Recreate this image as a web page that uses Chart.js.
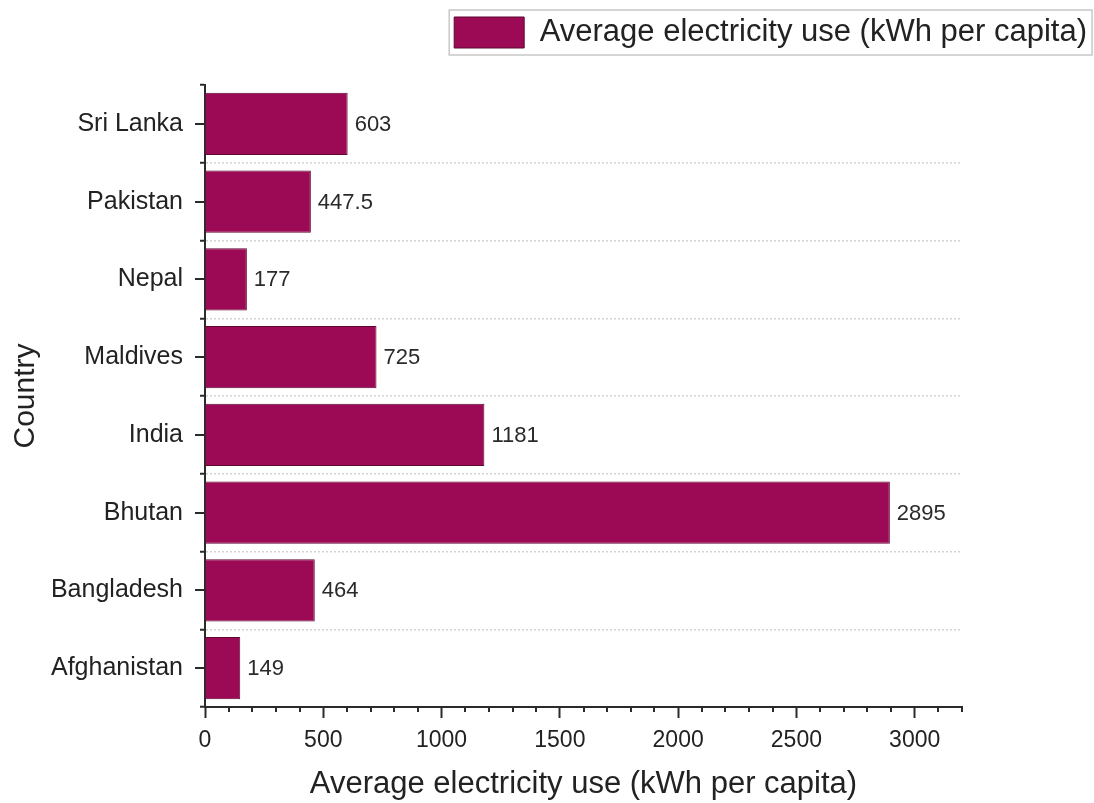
<!DOCTYPE html>
<html>
<head>
<meta charset="utf-8">
<title>Average electricity use</title>
<script src="https://cdn.jsdelivr.net/npm/chart.js@4.4.0/dist/chart.umd.min.js"></script>
<style>
    html, body { margin: 0; padding: 0; background: #fff; }
</style>
</head>
<body>
<canvas id="elecChart" width="1094" height="803"></canvas>
<script>
// data, bottom to top as in the figure
const countries = ['Afghanistan', 'Bangladesh', 'Bhutan', 'India', 'Maldives', 'Nepal', 'Pakistan', 'Sri Lanka'];
const kwhPerCapita = [149, 464, 2895, 1181, 725, 177, 447.5, 603];
const seriesName = 'Average electricity use (kWh per capita)';
const xTitle = 'Average electricity use (kWh per capita)';
const yTitle = 'Country';
const xMax = 3200;
const xMajorStep = 500;
const xMinorStep = 100;

const barColor = '#9c0a55';
const axisColor = '#2b2b2b';

Chart.defaults.font.family = "'Liberation Sans', Arial, sans-serif";
Chart.defaults.color = '#222';

// numbers printed next to each bar
const valueLabels = {
    id: 'valueLabels',
    afterDatasetsDraw(chart) {
        const ctx = chart.ctx;
        const meta = chart.getDatasetMeta(0);
        ctx.save();
        ctx.font = "22px 'Liberation Sans', Arial, sans-serif";
        ctx.fillStyle = '#2a2a2a';
        ctx.textAlign = 'left';
        ctx.textBaseline = 'middle';
        meta.data.forEach((bar, i) => {
            ctx.fillText(String(kwhPerCapita[i]), bar.x + 7, bar.y + 1);
        });
        ctx.restore();
    }
};

// short minor ticks on x, longer ticks at category centres on y
const extraTicks = {
    id: 'extraTicks',
    afterDraw(chart) {
        const ctx = chart.ctx;
        const x = chart.scales.x;
        const y = chart.scales.y;
        ctx.save();
        ctx.strokeStyle = axisColor;
        ctx.lineWidth = 2;
        ctx.beginPath();
        for (let v = 0; v <= xMax; v += xMinorStep) {
            if (v % xMajorStep === 0) continue;
            const px = Math.round(x.getPixelForValue(v));
            ctx.moveTo(px, x.top);
            ctx.lineTo(px, x.top + 5);
        }
        countries.forEach((c, i) => {
            const py = Math.round(y.getPixelForValue(i));
            ctx.moveTo(y.right, py);
            ctx.lineTo(y.right - 10, py);
        });
        ctx.stroke();
        ctx.restore();
    }
};

// thin frame round the legend
const legendFrame = {
    id: 'legendFrame',
    afterDraw(chart) {
        const box = chart.legend.legendHitBoxes[0];
        if (!box) return;
        const ctx = chart.ctx;
        ctx.save();
        ctx.strokeStyle = '#c8c8c8';
        ctx.lineWidth = 1.5;
        ctx.strokeRect(box.left - 5, box.top - 7, box.width + 10, box.height + 14);
        ctx.restore();
    }
};

new Chart(document.getElementById('elecChart').getContext('2d'), {
    type: 'bar',
    data: {
        labels: countries,
        datasets: [{
            label: seriesName,
            data: kwhPerCapita,
            backgroundColor: barColor,
            borderColor: '#5e0832',
            borderWidth: 1,
            categoryPercentage: 0.8,
            barPercentage: 1.0
        }]
    },
    options: {
        indexAxis: 'y',
        responsive: false,
        animation: false,
        layout: { padding: { top: 10, left: 8, right: 0, bottom: 0 } },
        plugins: {
            tooltip: { enabled: false },
            legend: {
                position: 'top',
                align: 'end',
                labels: {
                    boxWidth: 70,
                    boxHeight: 31,
                    padding: 7,
                    color: '#222',
                    font: { size: 31 }
                }
            }
        },
        scales: {
            x: {
                type: 'linear',
                position: 'bottom',
                min: 0,
                max: xMax,
                afterFit: s => { s.height = 96; },
                ticks: {
                    stepSize: xMinorStep,
                    autoSkip: false,
                    maxRotation: 0,
                    padding: 9,
                    color: '#222',
                    font: { size: 23 },
                    callback: v => (v % xMajorStep === 0 ? String(v) : '')
                },
                grid: {
                    drawOnChartArea: false,
                    drawTicks: true,
                    tickLength: 11,
                    tickWidth: 2,
                    tickColor: ctx => (ctx.tick && ctx.tick.value % xMajorStep === 0) ? axisColor : 'rgba(0,0,0,0)'
                },
                border: { color: axisColor, width: 2 },
                title: {
                    display: true,
                    text: xTitle,
                    color: '#222',
                    font: { size: 31 },
                    padding: { top: 0, bottom: 0 }
                }
            },
            y: {
                type: 'category',
                position: 'left',
                reverse: true,
                afterFit: s => { s.width = 197; },
                ticks: {
                    padding: 17,
                    color: '#222',
                    font: { size: 25 }
                },
                grid: {
                    offset: true,
                    color: ctx => (ctx.type !== 'tick' || ctx.index === 0) ? 'rgba(0,0,0,0)' : '#d4d4d4',
                    lineWidth: 1.5,
                    tickLength: 5,
                    tickWidth: 2,
                    tickColor: axisColor
                },
                border: { color: axisColor, width: 2, dash: [2, 2] },
                title: {
                    display: true,
                    text: yTitle,
                    color: '#222',
                    font: { size: 30 },
                    padding: { top: 0, bottom: 0 }
                }
            },
            // spacer axes: room on the right and below the legend
            yRight: {
                type: 'category',
                position: 'right',
                display: true,
                afterFit: s => { s.width = 132; },
                ticks: { display: false },
                grid: { display: false },
                border: { display: false }
            },
            xTop: {
                type: 'linear',
                position: 'top',
                display: true,
                afterFit: s => { s.height = 27; },
                ticks: { display: false },
                grid: { display: false },
                border: { display: false }
            }
        }
    },
    plugins: [valueLabels, extraTicks, legendFrame]
});
</script>
</body>
</html>
